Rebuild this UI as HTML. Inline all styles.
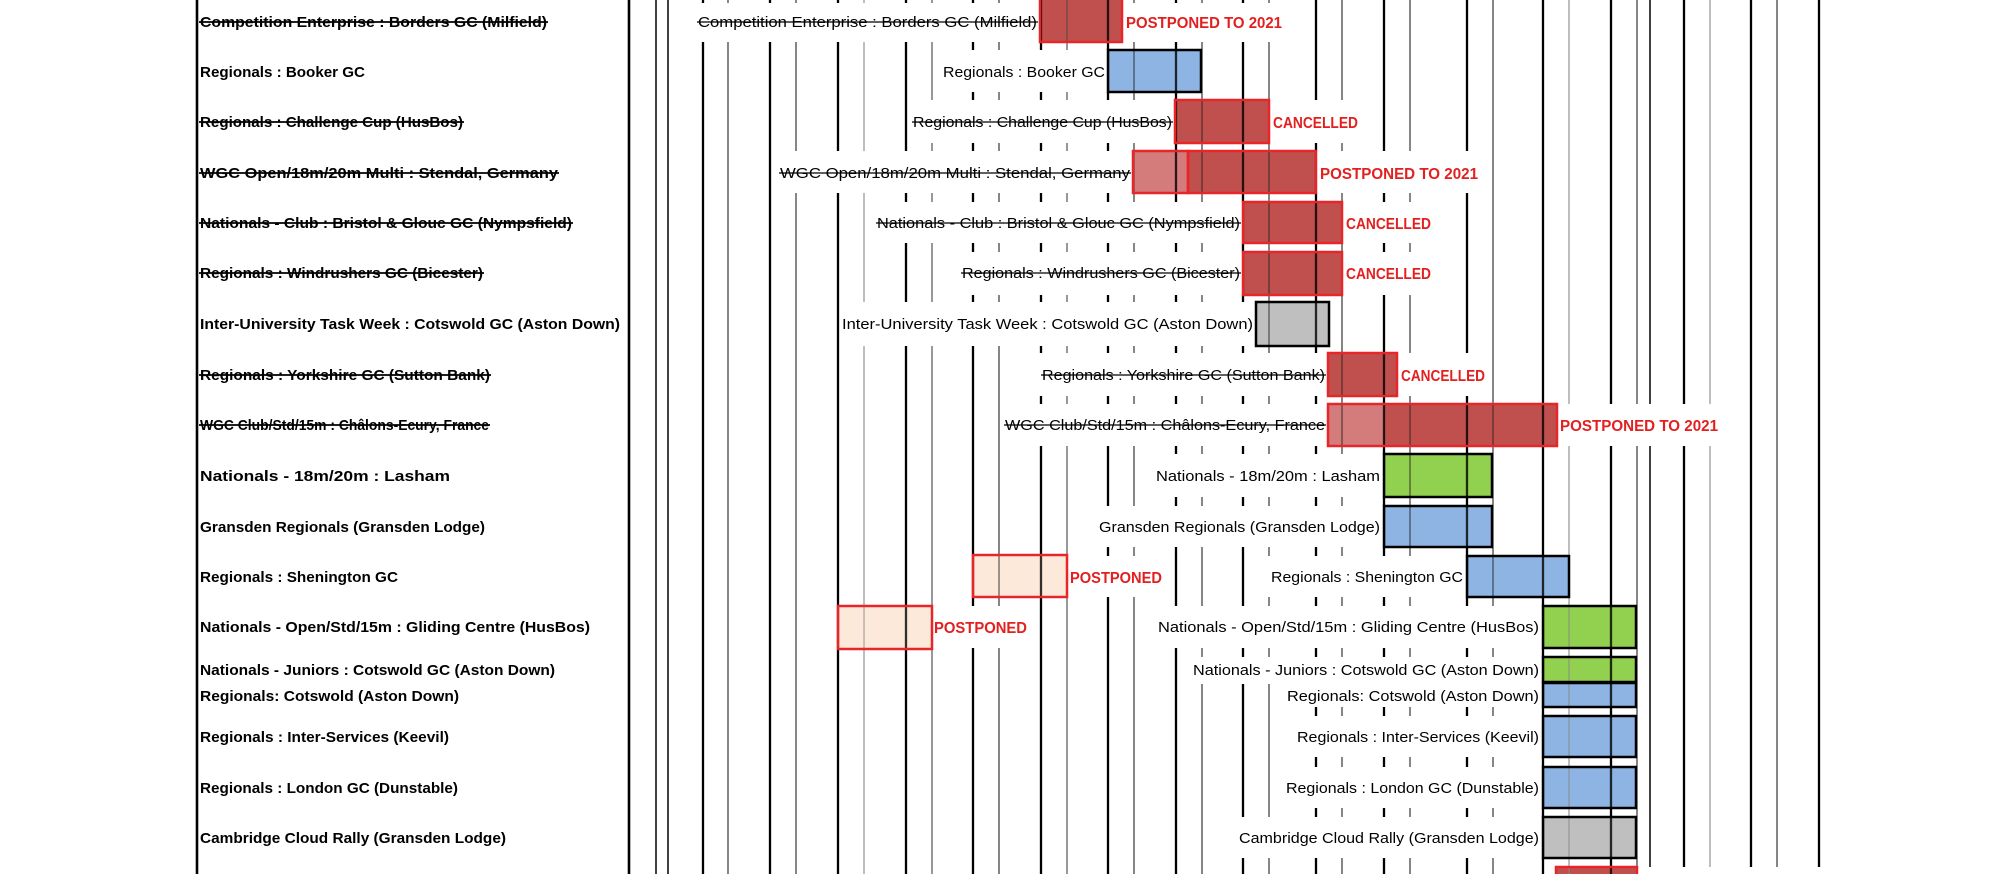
<!DOCTYPE html>
<html><head><meta charset="utf-8"><style>html,body{margin:0;padding:0;background:#fff}svg{display:block}</style></head><body>
<svg xmlns="http://www.w3.org/2000/svg" width="1992" height="874" viewBox="0 0 1992 874" font-family="'Liberation Sans', sans-serif">
<defs>
<g id="grid">
<line x1="656" y1="0" x2="656" y2="874" stroke="#111" stroke-width="1.6"/>
<line x1="668" y1="0" x2="668" y2="874" stroke="#111" stroke-width="1.6"/>
<line x1="703" y1="0" x2="703" y2="874" stroke="#000" stroke-width="2.3"/>
<line x1="728" y1="0" x2="728" y2="874" stroke="#222" stroke-width="1.1"/>
<line x1="770" y1="0" x2="770" y2="874" stroke="#000" stroke-width="2.3"/>
<line x1="796" y1="0" x2="796" y2="874" stroke="#222" stroke-width="1.1"/>
<line x1="838" y1="0" x2="838" y2="874" stroke="#000" stroke-width="2.3"/>
<line x1="864" y1="0" x2="864" y2="874" stroke="#888" stroke-width="1.1"/>
<line x1="906" y1="0" x2="906" y2="874" stroke="#000" stroke-width="2.3"/>
<line x1="932" y1="0" x2="932" y2="874" stroke="#444" stroke-width="1.1"/>
<line x1="973" y1="0" x2="973" y2="874" stroke="#000" stroke-width="2.3"/>
<line x1="999" y1="0" x2="999" y2="874" stroke="#222" stroke-width="1.1"/>
<line x1="1041" y1="0" x2="1041" y2="874" stroke="#000" stroke-width="2.3"/>
<line x1="1067" y1="0" x2="1067" y2="874" stroke="#444" stroke-width="1.1"/>
<line x1="1108" y1="0" x2="1108" y2="874" stroke="#000" stroke-width="2.3"/>
<line x1="1134" y1="0" x2="1134" y2="874" stroke="#222" stroke-width="1.1"/>
<line x1="1176" y1="0" x2="1176" y2="874" stroke="#000" stroke-width="2.3"/>
<line x1="1202" y1="0" x2="1202" y2="874" stroke="#222" stroke-width="1.1"/>
<line x1="1243" y1="0" x2="1243" y2="874" stroke="#000" stroke-width="2.3"/>
<line x1="1269" y1="0" x2="1269" y2="874" stroke="#222" stroke-width="1.1"/>
<line x1="1316" y1="0" x2="1316" y2="874" stroke="#000" stroke-width="2.3"/>
<line x1="1342" y1="0" x2="1342" y2="874" stroke="#222" stroke-width="1.1"/>
<line x1="1384" y1="0" x2="1384" y2="874" stroke="#000" stroke-width="2.3"/>
<line x1="1410" y1="0" x2="1410" y2="874" stroke="#222" stroke-width="1.1"/>
<line x1="1467" y1="0" x2="1467" y2="874" stroke="#000" stroke-width="2.3"/>
<line x1="1493" y1="0" x2="1493" y2="874" stroke="#222" stroke-width="1.1"/>
<line x1="1543" y1="0" x2="1543" y2="874" stroke="#000" stroke-width="2.3"/>
<line x1="1569" y1="0" x2="1569" y2="874" stroke="#888" stroke-width="1.1"/>
<line x1="1611" y1="0" x2="1611" y2="874" stroke="#000" stroke-width="2.3"/>
<line x1="1637" y1="0" x2="1637" y2="874" stroke="#222" stroke-width="1.1"/>
<line x1="1650" y1="0" x2="1650" y2="867" stroke="#111" stroke-width="1.6"/>
<line x1="1684" y1="0" x2="1684" y2="867" stroke="#000" stroke-width="2.3"/>
<line x1="1710" y1="0" x2="1710" y2="867" stroke="#888" stroke-width="1.1"/>
<line x1="1751" y1="0" x2="1751" y2="867" stroke="#000" stroke-width="2.3"/>
<line x1="1777" y1="0" x2="1777" y2="867" stroke="#222" stroke-width="1.1"/>
<line x1="1819" y1="0" x2="1819" y2="867" stroke="#000" stroke-width="2.3"/>
</g>
<clipPath id="barclip">
<rect x="1040" y="-2" width="82" height="44"/>
<rect x="1108" y="50" width="93" height="42"/>
<rect x="1175" y="100" width="94" height="43"/>
<rect x="1133" y="151" width="183" height="42"/>
<rect x="1243" y="202" width="99" height="41"/>
<rect x="1243" y="252" width="99" height="43"/>
<rect x="1256" y="302" width="73" height="44"/>
<rect x="1328" y="353" width="69" height="43"/>
<rect x="1328" y="404" width="229" height="42"/>
<rect x="1384" y="454" width="108" height="43"/>
<rect x="1384" y="506" width="108" height="41"/>
<rect x="1467" y="556" width="102" height="41"/>
<rect x="973" y="555" width="94" height="42"/>
<rect x="1543" y="606" width="93" height="42"/>
<rect x="838" y="606" width="94" height="43"/>
<rect x="1543" y="657" width="93" height="50"/>
<rect x="1543" y="716" width="93" height="41"/>
<rect x="1543" y="767" width="93" height="41"/>
<rect x="1543" y="817" width="93" height="41"/>
<rect x="1556" y="867" width="81" height="13"/>
</clipPath>
</defs>

<rect x="0" y="0" width="1992" height="874" fill="#fff"/>

<line x1="197" y1="0" x2="197" y2="874" stroke="#000" stroke-width="2.6"/>
<line x1="629" y1="0" x2="629" y2="874" stroke="#000" stroke-width="2.6"/>

<use href="#grid"/>

<g fill="#fff">
<rect x="695" y="3" width="345" height="39"/>
<rect x="940" y="50" width="168" height="42"/>
<rect x="910" y="100" width="265" height="43"/>
<rect x="777" y="151" width="356" height="42"/>
<rect x="874" y="202" width="369" height="41"/>
<rect x="959" y="252" width="284" height="43"/>
<rect x="841" y="302" width="415" height="44"/>
<rect x="1039" y="353" width="289" height="43"/>
<rect x="1002" y="404" width="326" height="42"/>
<rect x="1153" y="454" width="231" height="43"/>
<rect x="1096" y="506" width="288" height="41"/>
<rect x="1268" y="556" width="199" height="41"/>
<rect x="1155" y="606" width="388" height="42"/>
<rect x="1190" y="657" width="353" height="27"/>
<rect x="1284" y="682" width="259" height="25"/>
<rect x="1294" y="716" width="249" height="41"/>
<rect x="1283" y="767" width="260" height="41"/>
<rect x="1236" y="817" width="307" height="41"/>
<rect x="1122" y="3" width="164" height="39"/>
<rect x="1269" y="100" width="93" height="43"/>
<rect x="1316" y="151" width="166" height="42"/>
<rect x="1342" y="202" width="93" height="41"/>
<rect x="1342" y="252" width="93" height="43"/>
<rect x="1397" y="353" width="92" height="43"/>
<rect x="1557" y="404" width="165" height="42"/>
<rect x="1067" y="556" width="99" height="41"/>
<rect x="932" y="606" width="99" height="42"/>
<rect x="1637" y="867" width="189" height="8"/>
</g>

<g>
<rect x="1040" y="-2" width="82" height="44" fill="#c0504d"/>
<rect x="1108" y="50" width="93" height="42" fill="#8db4e2"/>
<rect x="1175" y="100" width="94" height="43" fill="#c0504d"/>
<rect x="1133" y="151" width="55" height="42" fill="#d47b7b"/>
<rect x="1188" y="151" width="128" height="42" fill="#c0504d"/>
<rect x="1243" y="202" width="99" height="41" fill="#c0504d"/>
<rect x="1243" y="252" width="99" height="43" fill="#c0504d"/>
<rect x="1256" y="302" width="73" height="44" fill="#bfbfbf"/>
<rect x="1328" y="353" width="69" height="43" fill="#c0504d"/>
<rect x="1328" y="404" width="56" height="42" fill="#d47b7b"/>
<rect x="1384" y="404" width="173" height="42" fill="#c0504d"/>
<rect x="1384" y="454" width="108" height="43" fill="#92d050"/>
<rect x="1384" y="506" width="108" height="41" fill="#8db4e2"/>
<rect x="1467" y="556" width="102" height="41" fill="#8db4e2"/>
<rect x="973" y="555" width="94" height="42" fill="#fde9d9"/>
<rect x="1543" y="606" width="93" height="42" fill="#92d050"/>
<rect x="838" y="606" width="94" height="43" fill="#fde9d9"/>
<rect x="1543" y="657" width="93" height="25" fill="#92d050"/>
<rect x="1543" y="683" width="93" height="24" fill="#8db4e2"/>
<rect x="1543" y="716" width="93" height="41" fill="#8db4e2"/>
<rect x="1543" y="767" width="93" height="41" fill="#8db4e2"/>
<rect x="1543" y="817" width="93" height="41" fill="#bfbfbf"/>
<rect x="1556" y="867" width="81" height="13" fill="#c0504d"/>
</g>

<use href="#grid" clip-path="url(#barclip)" opacity="0.8"/>

<g fill="none" stroke-width="2.5">
<rect x="1040" y="-2" width="82" height="44" stroke="#e8262a"/>
<rect x="1108" y="50" width="93" height="42" stroke="#000"/>
<rect x="1175" y="100" width="94" height="43" stroke="#e8262a"/>
<rect x="1133" y="151" width="55" height="42" stroke="#e8262a"/>
<rect x="1188" y="151" width="128" height="42" stroke="#e8262a"/>
<rect x="1243" y="202" width="99" height="41" stroke="#e8262a"/>
<rect x="1243" y="252" width="99" height="43" stroke="#e8262a"/>
<rect x="1256" y="302" width="73" height="44" stroke="#000"/>
<rect x="1328" y="353" width="69" height="43" stroke="#e8262a"/>
<rect x="1328" y="404" width="229" height="42" stroke="#e8262a"/>
<rect x="1384" y="454" width="108" height="43" stroke="#000"/>
<rect x="1384" y="506" width="108" height="41" stroke="#000"/>
<rect x="1467" y="556" width="102" height="41" stroke="#000"/>
<rect x="973" y="555" width="94" height="42" stroke="#e8262a"/>
<rect x="1543" y="606" width="93" height="42" stroke="#000"/>
<rect x="838" y="606" width="94" height="43" stroke="#e8262a"/>
<rect x="1543" y="657" width="93" height="25" stroke="#000"/>
<rect x="1543" y="683" width="93" height="24" stroke="#000"/>
<rect x="1543" y="716" width="93" height="41" stroke="#000"/>
<rect x="1543" y="767" width="93" height="41" stroke="#000"/>
<rect x="1543" y="817" width="93" height="41" stroke="#000"/>
<rect x="1556" y="867" width="81" height="13" stroke="#e8262a"/>
</g>

<g font-weight="bold" font-size="15" fill="#000">
<text x="200" y="27" textLength="347" lengthAdjust="spacingAndGlyphs">Competition Enterprise : Borders GC (Milfield)</text>
<text x="200" y="77" textLength="165" lengthAdjust="spacingAndGlyphs">Regionals : Booker GC</text>
<text x="200" y="127" textLength="263" lengthAdjust="spacingAndGlyphs">Regionals : Challenge Cup (HusBos)</text>
<text x="200" y="178" textLength="358" lengthAdjust="spacingAndGlyphs">WGC Open/18m/20m Multi : Stendal, Germany</text>
<text x="200" y="228" textLength="372" lengthAdjust="spacingAndGlyphs">Nationals - Club : Bristol &amp; Glouc GC (Nympsfield)</text>
<text x="200" y="278" textLength="283" lengthAdjust="spacingAndGlyphs">Regionals : Windrushers GC (Bicester)</text>
<text x="200" y="329" textLength="420" lengthAdjust="spacingAndGlyphs">Inter-University Task Week : Cotswold GC (Aston Down)</text>
<text x="200" y="380" textLength="290" lengthAdjust="spacingAndGlyphs">Regionals : Yorkshire GC (Sutton Bank)</text>
<text x="200" y="430" textLength="289" lengthAdjust="spacingAndGlyphs">WGC Club/Std/15m : Châlons-Ecury, France</text>
<text x="200" y="481" textLength="250" lengthAdjust="spacingAndGlyphs">Nationals - 18m/20m : Lasham</text>
<text x="200" y="532" textLength="285" lengthAdjust="spacingAndGlyphs">Gransden Regionals (Gransden Lodge)</text>
<text x="200" y="582" textLength="198" lengthAdjust="spacingAndGlyphs">Regionals : Shenington GC</text>
<text x="200" y="632" textLength="390" lengthAdjust="spacingAndGlyphs">Nationals - Open/Std/15m : Gliding Centre (HusBos)</text>
<text x="200" y="675" textLength="355" lengthAdjust="spacingAndGlyphs">Nationals - Juniors : Cotswold GC (Aston Down)</text>
<text x="200" y="701" textLength="259" lengthAdjust="spacingAndGlyphs">Regionals: Cotswold (Aston Down)</text>
<text x="200" y="742" textLength="249" lengthAdjust="spacingAndGlyphs">Regionals : Inter-Services (Keevil)</text>
<text x="200" y="793" textLength="258" lengthAdjust="spacingAndGlyphs">Regionals : London GC (Dunstable)</text>
<text x="200" y="843" textLength="306" lengthAdjust="spacingAndGlyphs">Cambridge Cloud Rally (Gransden Lodge)</text>
</g>
<g stroke="#000" stroke-width="1.8">
<line x1="199" y1="22" x2="548" y2="22"/>
<line x1="199" y1="122" x2="464" y2="122"/>
<line x1="199" y1="173" x2="559" y2="173"/>
<line x1="199" y1="223" x2="573" y2="223"/>
<line x1="199" y1="273" x2="484" y2="273"/>
<line x1="199" y1="375" x2="491" y2="375"/>
<line x1="199" y1="425" x2="490" y2="425"/>
</g>

<g font-size="15" fill="#000">
<text x="698" y="27" textLength="339" lengthAdjust="spacingAndGlyphs">Competition Enterprise : Borders GC (Milfield)</text>
<text x="943" y="77" textLength="162" lengthAdjust="spacingAndGlyphs">Regionals : Booker GC</text>
<text x="913" y="127" textLength="259" lengthAdjust="spacingAndGlyphs">Regionals : Challenge Cup (HusBos)</text>
<text x="780" y="178" textLength="350" lengthAdjust="spacingAndGlyphs">WGC Open/18m/20m Multi : Stendal, Germany</text>
<text x="877" y="228" textLength="363" lengthAdjust="spacingAndGlyphs">Nationals - Club : Bristol &amp; Glouc GC (Nympsfield)</text>
<text x="962" y="278" textLength="278" lengthAdjust="spacingAndGlyphs">Regionals : Windrushers GC (Bicester)</text>
<text x="842" y="329" textLength="411" lengthAdjust="spacingAndGlyphs">Inter-University Task Week : Cotswold GC (Aston Down)</text>
<text x="1042" y="380" textLength="283" lengthAdjust="spacingAndGlyphs">Regionals : Yorkshire GC (Sutton Bank)</text>
<text x="1005" y="430" textLength="320" lengthAdjust="spacingAndGlyphs">WGC Club/Std/15m : Châlons-Ecury, France</text>
<text x="1156" y="481" textLength="224" lengthAdjust="spacingAndGlyphs">Nationals - 18m/20m : Lasham</text>
<text x="1099" y="532" textLength="281" lengthAdjust="spacingAndGlyphs">Gransden Regionals (Gransden Lodge)</text>
<text x="1271" y="582" textLength="192" lengthAdjust="spacingAndGlyphs">Regionals : Shenington GC</text>
<text x="1158" y="632" textLength="381" lengthAdjust="spacingAndGlyphs">Nationals - Open/Std/15m : Gliding Centre (HusBos)</text>
<text x="1193" y="675" textLength="346" lengthAdjust="spacingAndGlyphs">Nationals - Juniors : Cotswold GC (Aston Down)</text>
<text x="1287" y="701" textLength="252" lengthAdjust="spacingAndGlyphs">Regionals: Cotswold (Aston Down)</text>
<text x="1297" y="742" textLength="242" lengthAdjust="spacingAndGlyphs">Regionals : Inter-Services (Keevil)</text>
<text x="1286" y="793" textLength="253" lengthAdjust="spacingAndGlyphs">Regionals : London GC (Dunstable)</text>
<text x="1239" y="843" textLength="300" lengthAdjust="spacingAndGlyphs">Cambridge Cloud Rally (Gransden Lodge)</text>
</g>
<g stroke="#000" stroke-width="1.3">
<line x1="697" y1="22" x2="1038" y2="22"/>
<line x1="912" y1="122" x2="1173" y2="122"/>
<line x1="779" y1="173" x2="1131" y2="173"/>
<line x1="876" y1="223" x2="1241" y2="223"/>
<line x1="961" y1="273" x2="1241" y2="273"/>
<line x1="1041" y1="375" x2="1326" y2="375"/>
<line x1="1004" y1="425" x2="1326" y2="425"/>
</g>

<g font-weight="bold" font-size="15.5" fill="#e3201f">
<text x="1126" y="28" textLength="156" lengthAdjust="spacingAndGlyphs">POSTPONED TO 2021</text>
<text x="1273" y="128" textLength="85" lengthAdjust="spacingAndGlyphs">CANCELLED</text>
<text x="1320" y="179" textLength="158" lengthAdjust="spacingAndGlyphs">POSTPONED TO 2021</text>
<text x="1346" y="229" textLength="85" lengthAdjust="spacingAndGlyphs">CANCELLED</text>
<text x="1346" y="279" textLength="85" lengthAdjust="spacingAndGlyphs">CANCELLED</text>
<text x="1401" y="381" textLength="84" lengthAdjust="spacingAndGlyphs">CANCELLED</text>
<text x="1560" y="431" textLength="158" lengthAdjust="spacingAndGlyphs">POSTPONED TO 2021</text>
<text x="1070" y="583" textLength="92" lengthAdjust="spacingAndGlyphs">POSTPONED</text>
<text x="934" y="633" textLength="93" lengthAdjust="spacingAndGlyphs">POSTPONED</text>
</g>
</svg>
</body></html>
